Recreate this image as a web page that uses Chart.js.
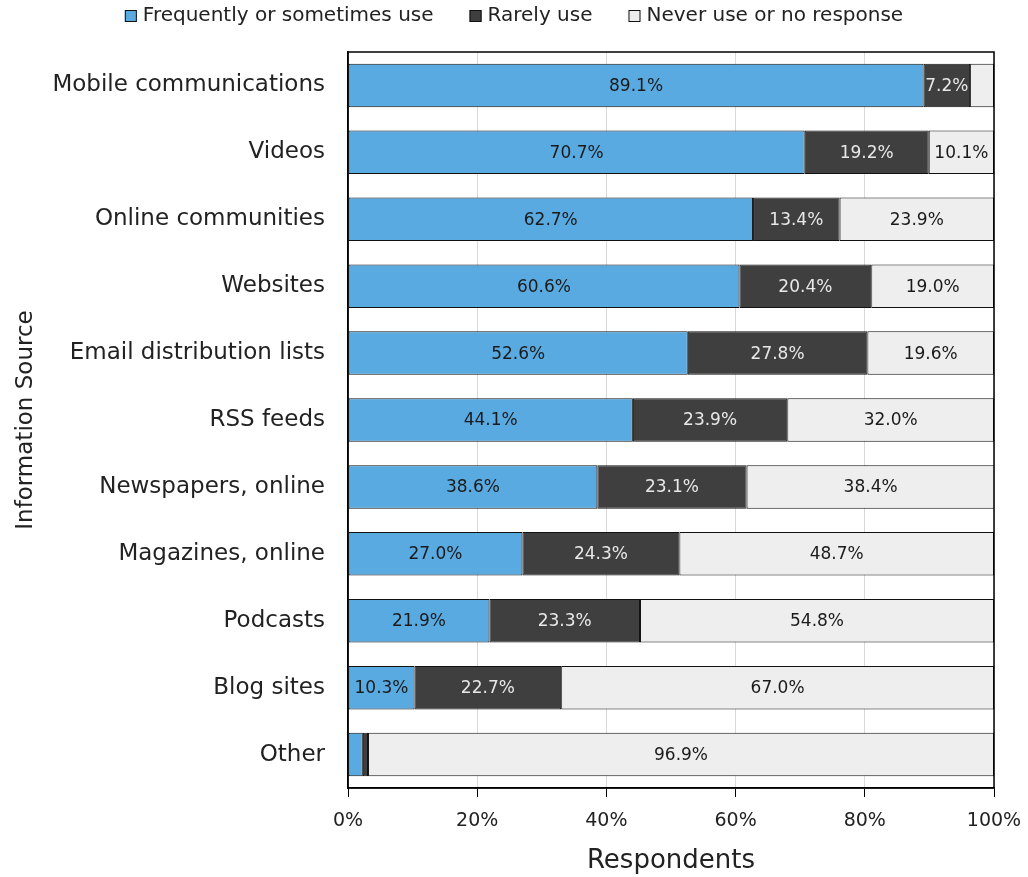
<!DOCTYPE html>
<html>
<head>
<meta charset="utf-8">
<script src="https://cdn.jsdelivr.net/npm/chart.js@4.4.1/dist/chart.umd.min.js"></script>
<style>
  html, body { margin: 0; padding: 0; background: #fff; }
  #wrap { width: 1028px; height: 877px; }
</style>
</head>
<body>
<div id="wrap"><canvas id="usage"></canvas></div>
<script>
const sources = [
  "Mobile communications", "Videos", "Online communities", "Websites",
  "Email distribution lists", "RSS feeds", "Newspapers, online",
  "Magazines, online", "Podcasts", "Blog sites", "Other"
];
const frequentUse = [89.1, 70.7, 62.7, 60.6, 52.6, 44.1, 38.6, 27.0, 21.9, 10.3, 2.3];
const rareUse     = [7.2, 19.2, 13.4, 20.4, 27.8, 23.9, 23.1, 24.3, 23.3, 22.7, 0.8];
const neverUse    = [3.7, 10.1, 23.9, 19.0, 19.6, 32.0, 38.4, 48.7, 54.8, 67.0, 96.9];
const xTicks = [0, 20, 40, 60, 80, 100];

const FONT = "'DejaVu Sans', sans-serif";

// value labels inside each segment (skip the tiny ones)
const segmentLabels = {
  id: 'segmentLabels',
  afterDatasetsDraw(chart) {
    const ctx = chart.ctx;
    ctx.save();
    ctx.font = "17px " + FONT;
    ctx.textAlign = 'center';
    ctx.textBaseline = 'middle';
    chart.data.datasets.forEach((ds, i) => {
      const meta = chart.getDatasetMeta(i);
      meta.data.forEach((bar, j) => {
        const v = ds.data[j];
        if (v < 5) return;
        const p = bar.getProps(['x', 'base', 'y'], true);
        ctx.fillStyle = ds.labelColor;
        ctx.fillText(v.toFixed(1) + '%', (p.x + p.base) / 2, p.y + 1);
      });
    });
    ctx.restore();
  }
};

// black frame round the plot area
const plotFrame = {
  id: 'plotFrame',
  afterDraw(chart) {
    const { ctx, chartArea: a } = chart;
    ctx.save();
    ctx.strokeStyle = '#000';
    ctx.lineWidth = 1.5;
    ctx.strokeRect(a.left, a.top, a.right - a.left, a.bottom - a.top);
    ctx.restore();
  }
};

// legend row across the top, wider gaps than the built-in one allows
const topLegend = {
  id: 'topLegend',
  afterDraw(chart) {
    const ctx = chart.ctx;
    const box = 12, gap = 6, spacing = 36, y = 16;
    ctx.save();
    ctx.font = "20px " + FONT;
    ctx.textBaseline = 'middle';
    const items = chart.data.datasets.map(d => ({
      d, w: box + gap + ctx.measureText(d.label).width
    }));
    const total = items.reduce((s, it) => s + it.w, 0) + spacing * (items.length - 1);
    let x = (chart.width - total) / 2;
    items.forEach(({ d, w }) => {
      ctx.fillStyle = d.backgroundColor;
      ctx.fillRect(x, y - box / 2, box, box);
      ctx.strokeStyle = '#111';
      ctx.lineWidth = 1;
      ctx.strokeRect(x + 0.5, y - box / 2 + 0.5, box - 1, box - 1);
      ctx.fillStyle = '#222';
      ctx.fillText(d.label, x + box + gap, y);
      x += w + spacing;
    });
    ctx.restore();
  }
};

new Chart(document.getElementById('usage'), {
  type: 'bar',
  data: {
    labels: sources,
    datasets: [
      { label: 'Frequently or sometimes use', data: frequentUse, backgroundColor: '#5aaae2', labelColor: '#1a1a1a' },
      { label: 'Rarely use', data: rareUse, backgroundColor: '#3f3f3f', labelColor: '#e8e8e8' },
      { label: 'Never use or no response', data: neverUse, backgroundColor: '#eeeeee', labelColor: '#1a1a1a' }
    ].map(d => Object.assign(d, {
      borderColor: '#111',
      borderWidth: 1,
      borderSkipped: false,
      categoryPercentage: 1,
      barPercentage: 0.65
    }))
  },
  options: {
    indexAxis: 'y',
    responsive: true,
    maintainAspectRatio: false,
    animation: false,
    layout: { padding: { left: 12, right: 0, top: 52, bottom: 0 } },
    plugins: {
      legend: { display: false },
      tooltip: { enabled: false }
    },
    scales: {
      x: {
        stacked: true,
        min: 0,
        max: 100,
        afterBuildTicks(axis) { axis.ticks = xTicks.map(v => ({ value: v })); },
        afterFit(axis) { axis.paddingRight = 34; },
        ticks: {
          callback: v => v + '%',
          font: { family: FONT, size: 19 },
          color: '#222',
          padding: 13
        },
        grid: { color: '#d9d9d9', tickColor: '#000', tickLength: 9, lineWidth: 1 },
        border: { color: '#000', width: 1.5 },
        title: {
          display: true,
          text: 'Respondents',
          font: { family: FONT, size: 26 },
          color: '#222',
          padding: { top: 0, bottom: 0 }
        }
      },
      y: {
        stacked: true,
        ticks: {
          font: { family: FONT, size: 23 },
          color: '#222',
          padding: 15
        },
        grid: { display: false },
        border: { color: '#000', width: 1.5 },
        title: {
          display: true,
          text: 'Information Source',
          font: { family: FONT, size: 23 },
          color: '#222',
          padding: { top: 0, bottom: 0 }
        },
        afterFit(axis) { axis.width = 336; }
      }
    }
  },
  plugins: [segmentLabels, plotFrame, topLegend]
});
</script>
</body>
</html>
